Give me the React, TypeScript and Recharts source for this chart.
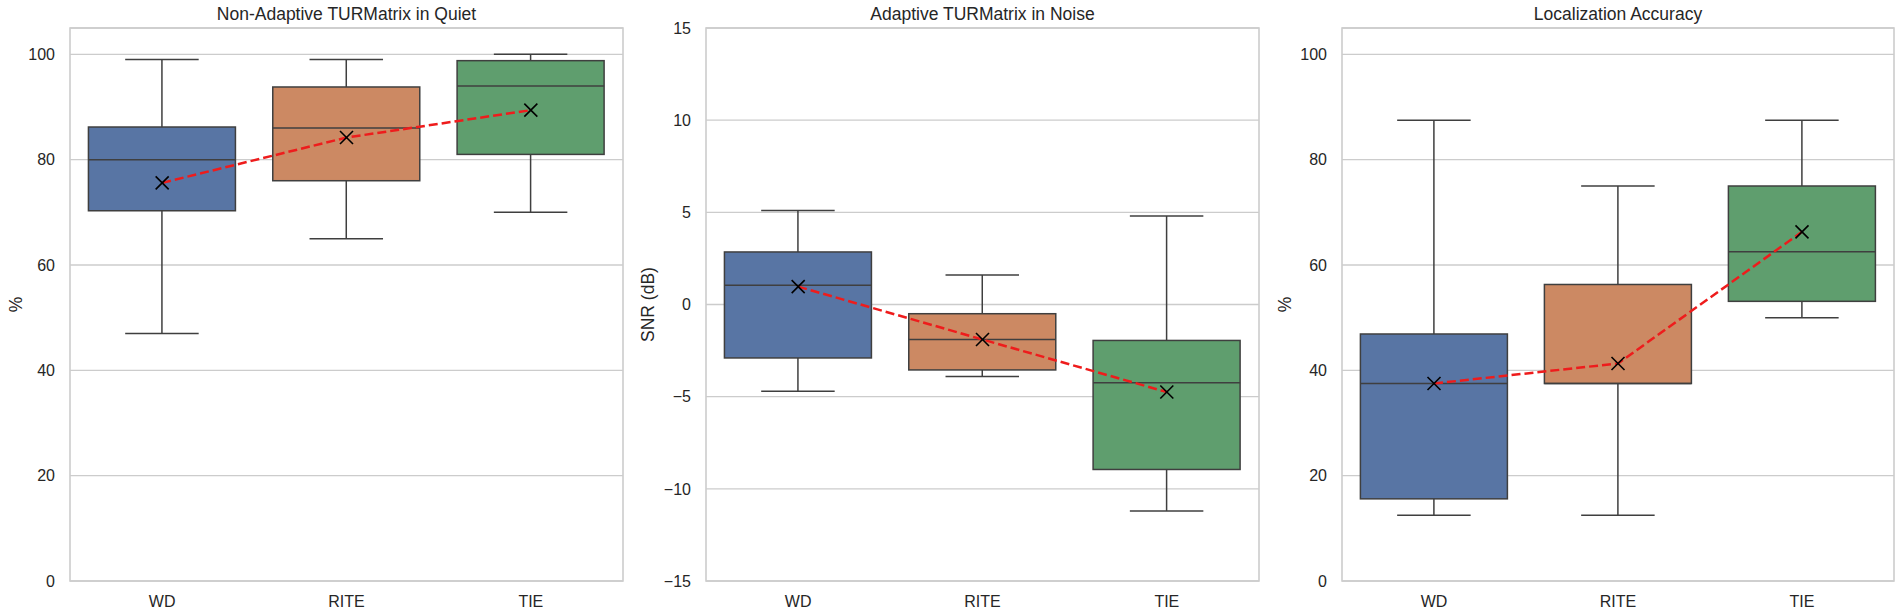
import { ComposedChart, Bar, Line, XAxis, YAxis, CartesianGrid, ReferenceArea } from 'recharts'

// groups on the x axis
const categories = ['WD', 'RITE', 'TIE']
const boxColors = ['#5875a4', '#cc8963', '#5f9e6e']

// Non-Adaptive TURMatrix in Quiet (%)
const quietMin = [47, 65, 70]
const quietQ1 = [70.3, 76, 81]
const quietMedian = [80, 86, 94]
const quietQ3 = [86.2, 93.8, 98.8]
const quietMax = [99, 99, 100]
const quietMean = [75.6, 84.2, 89.4]

// Adaptive TURMatrix in Noise (SNR dB)
const noiseMin = [-4.7, -3.9, -11.2]
const noiseQ1 = [-2.9, -3.55, -8.95]
const noiseMedian = [1.05, -1.9, -4.25]
const noiseQ3 = [2.85, -0.5, -1.95]
const noiseMax = [5.1, 1.6, 4.8]
const noiseMean = [0.97, -1.9, -4.75]

// Localization Accuracy (%)
const locMin = [12.5, 12.5, 50]
const locQ1 = [15.6, 37.5, 53.1]
const locMedian = [37.5, 37.5, 62.5]
const locQ3 = [46.9, 56.3, 75]
const locMax = [87.5, 75, 87.5]
const locMean = [37.5, 41.3, 66.3]

const percentTicks = [0, 20, 40, 60, 80, 100]
const snrTicks = [-15, -10, -5, 0, 5, 10, 15]

const FONT = '"Liberation Sans", Arial, sans-serif'
const TEXT = '#262626'
const EDGE = '#3f3f3f'
const GRID = '#cccccc'

function buildRows(min: number[], q1: number[], med: number[], q3: number[], max: number[], mean: number[]) {
  return categories.map((name, i) => ({
    name,
    min: min[i],
    q1: q1[i],
    median: med[i],
    q3: q3[i],
    max: max[i],
    mean: mean[i],
    box: [q1[i], q3[i]],
    fill: boxColors[i],
  }))
}

// draws the whole box + whiskers from the [q1, q3] bar rectangle
function BoxShape(props: any) {
  const { x, y, width, height, payload } = props
  if (x == null || y == null) return null
  const { q1, q3, median, min, max, fill } = payload
  const top = Math.min(y, y + height)
  const h = Math.abs(height)
  const k = h / (q3 - q1)
  const py = (v: number) => top + (q3 - v) * k
  const cx = x + width / 2
  const cap = width / 4
  return (
    <g>
      <line x1={cx} x2={cx} y1={py(max)} y2={top} stroke={EDGE} strokeWidth={1.5} />
      <line x1={cx} x2={cx} y1={top + h} y2={py(min)} stroke={EDGE} strokeWidth={1.5} />
      <line x1={cx - cap} x2={cx + cap} y1={py(max)} y2={py(max)} stroke={EDGE} strokeWidth={1.5} />
      <line x1={cx - cap} x2={cx + cap} y1={py(min)} y2={py(min)} stroke={EDGE} strokeWidth={1.5} />
      <rect x={x} y={top} width={width} height={h} fill={fill} stroke={EDGE} strokeWidth={1.5} />
      <line x1={x} x2={x + width} y1={py(median)} y2={py(median)} stroke={EDGE} strokeWidth={1.5} />
    </g>
  )
}

function MeanMarker(props: any) {
  const { cx, cy, index } = props
  if (cx == null || cy == null) return <g key={index} />
  const r = 6.5
  return (
    <g key={index}>
      <line x1={cx - r} y1={cy - r} x2={cx + r} y2={cy + r} stroke="#000" strokeWidth={1.6} />
      <line x1={cx - r} y1={cy + r} x2={cx + r} y2={cy - r} stroke="#000" strokeWidth={1.6} />
    </g>
  )
}

const fmt = (v: number) => String(v).replace('-', '\u2212')

interface PanelProps {
  title: string
  yLabel: string
  rows: any[]
  domain: [number, number]
  ticks: number[]
  left: number
  width: number
  frameLeft: number
  frameRight: number
  labelX: number
}

function Panel({ title, yLabel, rows, domain, ticks, left, width, frameLeft, frameRight, labelX }: PanelProps) {
  const yAxisWidth = frameLeft - left
  const rightMargin = left + width - frameRight
  const lx = labelX - left
  return (
    <div style={{ position: 'absolute', left, top: 0, width, height: 614 }}>
      <div
        style={{
          position: 'absolute',
          left: yAxisWidth,
          width: frameRight - frameLeft,
          top: 4,
          lineHeight: '20px',
          textAlign: 'center',
          fontFamily: FONT,
          fontSize: 17.5,
          color: TEXT,
        }}
      >
        {title}
      </div>
      <ComposedChart
        width={width}
        height={614}
        data={rows}
        margin={{ top: 28, right: rightMargin, bottom: 0, left: 0 }}
        barCategoryGap="10%"
        style={{ overflow: 'visible' }}
      >
        <CartesianGrid vertical={false} stroke={GRID} strokeWidth={1.3} />
        <XAxis
          dataKey="name"
          axisLine={false}
          tickLine={false}
          tickSize={0}
          tickMargin={15}
          height={33}
          tick={{ fill: TEXT, fontSize: 16, fontFamily: FONT }}
        />
        <YAxis
          type="number"
          domain={domain}
          ticks={ticks}
          allowDataOverflow
          width={yAxisWidth}
          axisLine={false}
          tickLine={false}
          tickSize={0}
          tickMargin={15}
          tickFormatter={fmt}
          tick={{ fill: TEXT, fontSize: 16, fontFamily: FONT }}
          label={(p: any) => {
            const vb = p.viewBox || {}
            const ly = (vb.y ?? 28) + (vb.height ?? 553) / 2
            return (
              <text
                x={lx}
                y={ly}
                transform={`rotate(-90, ${lx}, ${ly})`}
                textAnchor="middle"
                dominantBaseline="central"
                fill={TEXT}
                fontSize={17.5}
                fontFamily={FONT}
              >
                {yLabel}
              </text>
            )
          }}
        />
        <ReferenceArea
          x1={categories[0]}
          x2={categories[categories.length - 1]}
          y1={domain[0]}
          y2={domain[1]}
          fill="none"
          fillOpacity={0}
          stroke={GRID}
          strokeWidth={1.6}
          strokeOpacity={1}
          ifOverflow="visible"
        />
        <Bar dataKey="box" shape={BoxShape} isAnimationActive={false} />
        <Line
          type="linear"
          dataKey="mean"
          stroke="#ee1c1c"
          strokeWidth={2.5}
          strokeDasharray="9 4"
          dot={MeanMarker}
          activeDot={false}
          isAnimationActive={false}
        />
      </ComposedChart>
    </div>
  )
}

export default function App() {
  const quietRows = buildRows(quietMin, quietQ1, quietMedian, quietQ3, quietMax, quietMean)
  const noiseRows = buildRows(noiseMin, noiseQ1, noiseMedian, noiseQ3, noiseMax, noiseMean)
  const locRows = buildRows(locMin, locQ1, locMedian, locQ3, locMax, locMean)
  return (
    <div style={{ position: 'absolute', left: 0, top: 0, width: 1902, height: 614, background: '#fff' }}>
      <Panel
        title="Non-Adaptive TURMatrix in Quiet"
        yLabel="%"
        rows={quietRows}
        domain={[0, 105]}
        ticks={percentTicks}
        left={0}
        width={636}
        frameLeft={70}
        frameRight={623}
        labelX={15.5}
      />
      <Panel
        title="Adaptive TURMatrix in Noise"
        yLabel="SNR (dB)"
        rows={noiseRows}
        domain={[-15, 15]}
        ticks={snrTicks}
        left={636}
        width={636}
        frameLeft={706}
        frameRight={1259}
        labelX={648}
      />
      <Panel
        title="Localization Accuracy"
        yLabel="%"
        rows={locRows}
        domain={[0, 105]}
        ticks={percentTicks}
        left={1272}
        width={630}
        frameLeft={1342}
        frameRight={1894}
        labelX={1285}
      />
    </div>
  )
}
